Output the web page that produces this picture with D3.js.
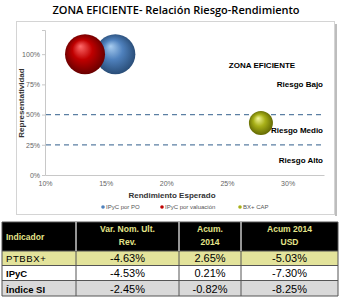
<!DOCTYPE html>
<html>
<head>
<meta charset="utf-8">
<script src="https://cdn.jsdelivr.net/npm/d3@7"></script>
<style>
  body { margin: 0; background: #fff; }
  svg { display: block; }
</style>
</head>
<body>
<svg width="345" height="299"></svg>
<script>
// datos del grafico de burbujas
var series = ["IPyC por PO", "IPyC por valuación", "BX+ CAP"];
var rendimiento = [0.158, 0.133, 0.278];
var representatividad = [1.00, 1.00, 0.43];
var radios = [20, 20, 12];
var xTicks = [0.10, 0.15, 0.20, 0.25, 0.30];
var yTicks = [0, 0.25, 0.50, 0.75, 1.00];
var limites = [0.50, 0.25];
var zonas = ["Riesgo Bajo", "Riesgo Medio", "Riesgo Alto"];
var zonasY = [0.75, 0.375, 0.125];

// datos de la tabla
var encabezados = ["Indicador", "Var. Nom. Ult.|Rev.", "Acum.|2014", "Acum 2014|USD"];
var indicadores = ["PTBBX+", "IPyC", "Índice SI"];
var varNom = ["-4.63%", "-4.53%", "-2.45%"];
var acum2014 = ["2.65%", "0.21%", "-0.82%"];
var acumUsd = ["-5.03%", "-7.30%", "-8.25%"];

var svg = d3.select("svg");
var defs = svg.append("defs");

var colores = [
  ["#a9cdf0", "#4f81bd", "#24466e"],
  ["#ff6b6b", "#c00000", "#5e0000"],
  ["#f4f79a", "#a8b018", "#5a6000"]
];
colores.forEach(function(c, i) {
  var g = defs.append("radialGradient").attr("id", "esfera" + i)
    .attr("cx", "0.5").attr("cy", "0.5").attr("r", "0.55")
    .attr("fx", "0.38").attr("fy", "0.3");
  g.append("stop").attr("offset", "0%").attr("stop-color", c[0]);
  g.append("stop").attr("offset", "45%").attr("stop-color", c[1]);
  g.append("stop").attr("offset", "100%").attr("stop-color", c[2]);
});

// titulo
svg.append("text").attr("x", 176).attr("y", 14)
  .attr("text-anchor", "middle")
  .style("font-family", "Open Sans").style("font-weight", "600").style("font-size", "11px")
  .text("ZONA EFICIENTE- Relación Riesgo-Rendimiento");

// marco del grafico
svg.append("rect").attr("x", 16.5).attr("y", 21.5).attr("width", 318).attr("height", 193)
  .style("fill", "#fff").style("stroke", "#d4d4d4");
svg.append("line").attr("x1", 336).attr("x2", 336).attr("y1", 24).attr("y2", 216)
  .style("stroke", "#bdbdbd").style("stroke-width", 2);

var xScale = d3.scaleLinear().domain([0.10, 0.33]).range([45, 324]);
var yScale = d3.scaleLinear().domain([0, 1.2]).range([175, 30]);

var fmt = d3.format(".0%");

var yAxis = d3.axisLeft(yScale).tickValues(yTicks).tickFormat(fmt).tickSize(3).tickPadding(2);
var yG = svg.append("g").attr("transform", "translate(45,0)").call(yAxis);

var xAxis = d3.axisBottom(xScale).tickValues(xTicks).tickFormat(fmt).tickSize(0).tickPadding(6);
var xG = svg.append("g").attr("transform", "translate(0,175)").call(xAxis);

[xG, yG].forEach(function(g) {
  g.select(".domain").style("stroke", "#c8c8c8");
  g.selectAll(".tick line").style("stroke", "#c8c8c8");
  g.selectAll("text").style("font-family", "Liberation Sans").style("font-size", "7px").style("fill", "#666");
});

// lineas de limite de riesgo
svg.selectAll("line.limite").data(limites).enter().append("line")
  .attr("class", "limite")
  .attr("x1", 46).attr("x2", 324)
  .attr("y1", d => yScale(d)).attr("y2", d => yScale(d))
  .style("stroke", "#5b7fa3").style("stroke-width", 1.2).style("stroke-dasharray", "5,4");

// burbujas (azul primero, roja encima)
svg.selectAll("circle.burbuja").data(series).enter().append("circle")
  .attr("class", "burbuja")
  .attr("cx", (d, i) => xScale(rendimiento[i]))
  .attr("cy", (d, i) => yScale(representatividad[i]))
  .attr("r", (d, i) => radios[i])
  .style("fill", (d, i) => "url(#esfera" + i + ")");

// etiquetas de zona
svg.append("text").attr("x", 262).attr("y", 68).attr("text-anchor", "middle")
  .style("font-family", "Liberation Sans").style("font-weight", "bold").style("font-size", "8px")
  .text("ZONA EFICIENTE");
svg.selectAll("text.zona").data(zonas).enter().append("text")
  .attr("class", "zona")
  .attr("x", 323).attr("y", (d, i) => yScale(zonasY[i]) + 3)
  .attr("text-anchor", "end")
  .style("font-family", "Liberation Sans").style("font-weight", "bold").style("font-size", "8px")
  .text(d => d);

// titulos de ejes
svg.append("text").attr("x", 172).attr("y", 198).attr("text-anchor", "middle")
  .style("font-family", "Liberation Sans Narrow, Liberation Sans").style("font-weight", "bold")
  .style("font-size", "8px").style("fill", "#333")
  .text("Rendimiento Esperado");
svg.append("text").attr("transform", "translate(24,103) rotate(-90)").attr("text-anchor", "middle")
  .style("font-family", "Liberation Sans Narrow, Liberation Sans").style("font-weight", "bold")
  .style("font-size", "8px").style("fill", "#333")
  .text("Representatividad");

// leyenda
var legX = [103, 162, 240];
var leg = svg.selectAll("g.leg").data(series).enter().append("g")
  .attr("class", "leg")
  .attr("transform", (d, i) => `translate(${legX[i]},209)`);
leg.append("circle").attr("r", 1.8).attr("cy", -2)
  .style("fill", (d, i) => colores[i][1]);
leg.append("text").attr("x", 3)
  .style("font-family", "Liberation Sans").style("font-size", "6px").style("fill", "#555")
  .text(d => d);

// tabla
var cols = [2, 76, 179, 241, 338];
var filas = [222, 251, 265.5, 280.5, 296];
var fondos = ["#000", "#e3e39b", "#fff", "#d9d9d9"];

filas.slice(0, -1).forEach(function(y, r) {
  svg.append("rect").attr("x", cols[0]).attr("y", y)
    .attr("width", cols[4] - cols[0]).attr("height", filas[r + 1] - y)
    .style("fill", fondos[r]);
});

var celdas = [];
encabezados.forEach(function(h, c) { celdas.push({ r: 0, c: c, t: h }); });
indicadores.forEach(function(ind, i) {
  celdas.push({ r: i + 1, c: 0, t: ind });
  celdas.push({ r: i + 1, c: 1, t: varNom[i] });
  celdas.push({ r: i + 1, c: 2, t: acum2014[i] });
  celdas.push({ r: i + 1, c: 3, t: acumUsd[i] });
});

// bordes
var bordes = svg.append("g").style("stroke", "#555").style("stroke-width", 1);
filas.forEach(function(y) {
  bordes.append("line").attr("x1", cols[0]).attr("x2", cols[4]).attr("y1", y).attr("y2", y);
});
cols.forEach(function(x) {
  bordes.append("line").attr("x1", x).attr("x2", x).attr("y1", filas[0]).attr("y2", filas[4]);
});
svg.selectAll("line.hdr").data(cols.slice(1, 4)).enter().append("line")
  .attr("x1", d => d).attr("x2", d => d).attr("y1", filas[0]).attr("y2", filas[1])
  .style("stroke", "#fff").style("stroke-width", 1);

celdas.forEach(function(d) {
  var x0 = cols[d.c], x1 = cols[d.c + 1];
  var y0 = filas[d.r], y1 = filas[d.r + 1];
  var izq = d.c === 0;
  var t = svg.append("text")
    .attr("x", izq ? x0 + 4 : (x0 + x1) / 2)
    .attr("text-anchor", izq ? "start" : "middle")
    .style("font-family", "Liberation Sans");
  if (d.r === 0) {
    var lineas = d.t.split("|");
    t.style("font-weight", "bold").style("font-size", "8.5px").style("fill", "#e4e48a");
    if (lineas.length === 1) {
      t.attr("y", (y0 + y1) / 2 + 3).text(lineas[0]);
    } else {
      lineas.forEach(function(l, k) {
        t.append("tspan").attr("x", (x0 + x1) / 2).attr("y", y0 + 10 + k * 13).text(l);
      });
    }
  } else {
    var negrita = izq && d.r > 1;
    t.attr("y", y1 - 3.5)
      .style("font-size", izq ? "9.5px" : "11px")
      .style("font-weight", negrita ? "bold" : "normal")
      .style("letter-spacing", izq && !negrita ? "0.6px" : null)
      .style("fill", "#000")
      .text(d.t);
  }
});
</script>
</body>
</html>
